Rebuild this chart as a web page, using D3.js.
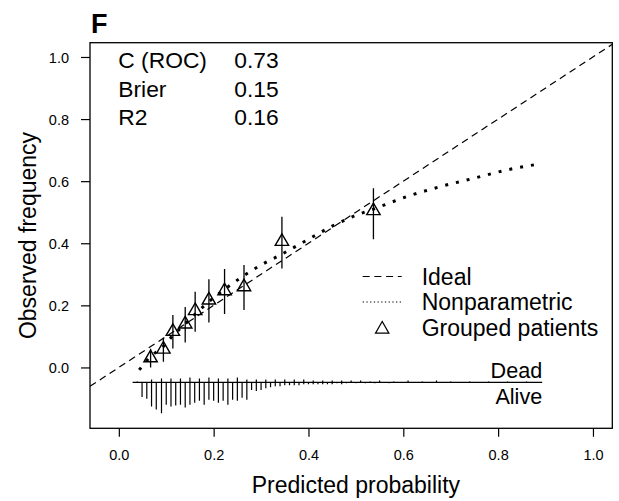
<!DOCTYPE html>
<html><head><meta charset="utf-8">
<script src="https://cdn.jsdelivr.net/npm/d3@7"></script>
<style>
body{margin:0;background:#fff;}
text{font-family:Arial,"Liberation Sans",sans-serif;fill:#000;}
</style></head>
<body><svg id="c" width="619" height="501"></svg>
<script>
// ---- data ----
const panelLabel = "F";
const statNames = ["C (ROC)", "Brier", "R2"];
const statValues = ["0.73", "0.15", "0.16"];
const xTicks = [0.0, 0.2, 0.4, 0.6, 0.8, 1.0];
const yTicks = [0.0, 0.2, 0.4, 0.6, 0.8, 1.0];
const xTitle = "Predicted probability";
const yTitle = "Observed frequency";
const legendLabels = ["Ideal", "Nonparametric", "Grouped patients"];

const groupX  = [0.067, 0.094, 0.114, 0.140, 0.161, 0.190, 0.223, 0.264, 0.344, 0.537];
const groupY  = [0.033, 0.061, 0.118, 0.142, 0.185, 0.219, 0.249, 0.262, 0.408, 0.507];
const groupLo = [0.000, 0.018, 0.061, 0.080, 0.115, 0.145, 0.172, 0.185, 0.319, 0.413];
const groupHi = [0.060, 0.094, 0.169, 0.195, 0.244, 0.284, 0.317, 0.330, 0.485, 0.577];

const npX = [0.043, 0.067, 0.094, 0.114, 0.140, 0.165, 0.190, 0.220, 0.264, 0.300, 0.344, 0.400, 0.450, 0.500, 0.537, 0.607, 0.677, 0.748, 0.818, 0.885];
const npY = [-0.008, 0.035, 0.068, 0.103, 0.140, 0.178, 0.212, 0.248, 0.296, 0.330, 0.365, 0.413, 0.455, 0.490, 0.510, 0.550, 0.582, 0.609, 0.636, 0.655];

// risk distribution (relative frequencies)
const aliveX = [0.049,0.059,0.069,0.079,0.090,0.100,0.110,0.120,0.130,0.140,0.150,0.160,0.170,0.180,0.190,0.200,0.210,0.220,0.230,0.240,0.250,0.260,0.270,0.280,0.290,0.300,0.310,0.320,0.330,0.340,0.350,0.360,0.370,0.380,0.390,0.400,0.410,0.420,0.430,0.440,0.450,0.460,0.470,0.480,0.500,0.520,0.540,0.570];
const aliveN = [15,17,25,28,32,23,25,24,23,26,23,21,19,23,18,19,21,19,23,18,19,16,18,8,9,8,6,5,4,4,3,3,3,3,2,2,2,2,2,2,2,1,2,1,1,1,1,1];
const deadX = [0.039,0.069,0.090,0.110,0.130,0.150,0.170,0.190,0.210,0.230,0.250,0.270,0.290,0.310,0.330,0.350,0.370,0.390,0.410,0.430,0.450,0.470,0.490,0.510,0.530,0.550,0.580,0.610,0.640,0.670,0.700,0.740,0.780,0.820,0.860];
const deadN = [1,3,4,4,4,5,4,5,4,4,5,3,3,3,3,3,3,3,2,2,2,2,2,2,1,2,1,2,1,2,1,1,1,1,1];
const rugRange = [0.029, 0.893];
const rugLevel = -0.048;

// ---- layout ----
const W = 619, H = 501;
const box = {left: 90, right: 612.3, top: 42.7, bottom: 428.3};
const x = d3.scaleLinear().domain([-0.0608, 1.0408]).range([box.left, box.right]);
const y = d3.scaleLinear().domain([-0.196, 1.046]).range([box.bottom, box.top]);
const rugLen = d3.scaleLinear().domain([0, 32]).range([0, 31]);

const svg = d3.select("#c");
svg.append("rect").attr("width", W).attr("height", H).attr("fill", "#fff");

const defs = svg.append("defs");
defs.append("clipPath").attr("id", "clip").append("rect")
  .attr("x", box.left).attr("y", box.top)
  .attr("width", box.right - box.left).attr("height", box.bottom - box.top);

// axes
const xAxis = svg.append("g").attr("transform", `translate(0,${box.bottom})`)
  .call(d3.axisBottom(x).tickValues(xTicks).tickFormat(d3.format(".1f")).tickSize(8.5).tickSizeOuter(0));
xAxis.select(".domain").remove();
xAxis.selectAll("line").attr("stroke", "#000").attr("stroke-width", 1.2);
xAxis.selectAll("text").attr("y", 27).attr("dy", "0.35em").style("font-size", "14.5px").style("font-family", "Arial, 'Liberation Sans', sans-serif");

const yAxis = svg.append("g").attr("transform", `translate(${box.left},0)`)
  .call(d3.axisLeft(y).tickValues(yTicks).tickFormat(d3.format(".1f")).tickSize(9).tickSizeOuter(0));
yAxis.select(".domain").remove();
yAxis.selectAll("line").attr("stroke", "#000").attr("stroke-width", 1.2);
yAxis.selectAll("text").attr("x", -21).attr("dy", "0.35em").style("font-size", "14.5px").style("font-family", "Arial, 'Liberation Sans', sans-serif");

// box
svg.append("rect").attr("x", box.left).attr("y", box.top)
  .attr("width", box.right - box.left).attr("height", box.bottom - box.top)
  .attr("fill", "none").attr("stroke", "#000").attr("stroke-width", 1.3);

// titles
svg.append("text").attr("x", (x(0) + x(1)) / 2).attr("y", 493)
  .attr("text-anchor", "middle").style("font-size", "23px").text(xTitle);
svg.append("text").attr("transform", `translate(36,${(box.top + box.bottom) / 2}) rotate(-90)`)
  .attr("text-anchor", "middle").style("font-size", "23px").text(yTitle);
svg.append("text").attr("x", 91).attr("y", 32.7)
  .style("font-size", "27px").style("font-weight", "bold").text(panelLabel);

// stats
statNames.forEach((s, i) => {
  svg.append("text").attr("x", 118.3).attr("y", 68.3 + i * 28.3).style("font-size", "22.8px").text(s);
  svg.append("text").attr("x", 234.3).attr("y", 68.3 + i * 28.3).style("font-size", "22.8px").text(statValues[i]);
});

const plot = svg.append("g").attr("clip-path", "url(#clip)");

// ideal line
plot.append("line")
  .attr("x1", x(-0.0608)).attr("y1", y(-0.0608)).attr("x2", x(1.0408)).attr("y2", y(1.0408))
  .attr("stroke", "#000").attr("stroke-width", 1.2).attr("stroke-dasharray", "7,4.7");

// nonparametric
const line = d3.line().x((d, i) => x(npX[i])).y((d, i) => y(npY[i])).curve(d3.curveMonotoneX);
plot.append("path").datum(npX).attr("d", line)
  .attr("fill", "none").attr("stroke", "#000").attr("stroke-width", 3).attr("stroke-dasharray", "3,8");

// error bars
plot.selectAll(".eb").data(groupX).join("line").attr("class", "eb")
  .attr("x1", d => x(d)).attr("x2", d => x(d))
  .attr("y1", (d, i) => y(groupLo[i])).attr("y2", (d, i) => y(groupHi[i]))
  .attr("stroke", "#000").attr("stroke-width", 1.3);

// triangles
function tri(cx, cy) {
  return `M${cx},${cy - 7}L${cx - 6.7},${cy + 4.6}L${cx + 6.7},${cy + 4.6}Z`;
}
plot.selectAll(".tri").data(groupX).join("path").attr("class", "tri")
  .attr("d", (d, i) => tri(x(d), y(groupY[i])))
  .attr("fill", "none").attr("stroke", "#000").attr("stroke-width", 1.4);

// rug
const ry = y(rugLevel);
plot.append("line").attr("x1", x(rugRange[0])).attr("x2", x(rugRange[1]))
  .attr("y1", ry).attr("y2", ry).attr("stroke", "#000").attr("stroke-width", 1.2);
plot.selectAll(".alive").data(aliveX).join("line").attr("class", "alive")
  .attr("x1", d => x(d)).attr("x2", d => x(d))
  .attr("y1", ry).attr("y2", (d, i) => ry + rugLen(aliveN[i]))
  .attr("stroke", "#000").attr("stroke-width", 1.2);
plot.selectAll(".dead").data(deadX).join("line").attr("class", "dead")
  .attr("x1", d => x(d)).attr("x2", d => x(d))
  .attr("y1", ry).attr("y2", (d, i) => ry - rugLen(deadN[i]))
  .attr("stroke", "#000").attr("stroke-width", 1.2);
svg.append("text").attr("x", x(rugRange[1])).attr("y", 378.3).attr("text-anchor", "end").style("font-size", "21.6px").text("Dead");
svg.append("text").attr("x", x(rugRange[1])).attr("y", 404).attr("text-anchor", "end").style("font-size", "21.6px").text("Alive");

// legend
const lg = svg.append("g");
const lx0 = 362.7, lx1 = 401.7, ltx = 421.7;
const lys = [276.5, 302, 327.5];
lg.append("line").attr("x1", lx0).attr("x2", lx1).attr("y1", lys[0]).attr("y2", lys[0])
  .attr("stroke", "#000").attr("stroke-width", 1.2).attr("stroke-dasharray", "7,4.7");
lg.append("line").attr("x1", lx0).attr("x2", lx1).attr("y1", lys[1]).attr("y2", lys[1])
  .attr("stroke", "#000").attr("stroke-width", 1).attr("stroke-dasharray", "1.3,2.4");
lg.append("path").attr("d", tri((lx0 + lx1) / 2, lys[2] + 1))
  .attr("fill", "none").attr("stroke", "#000").attr("stroke-width", 1.2);
legendLabels.forEach((t, i) => {
  lg.append("text").attr("x", ltx).attr("y", lys[i]).attr("dy", "0.36em").style("font-size", "23px").text(t);
});
</script></body></html>
